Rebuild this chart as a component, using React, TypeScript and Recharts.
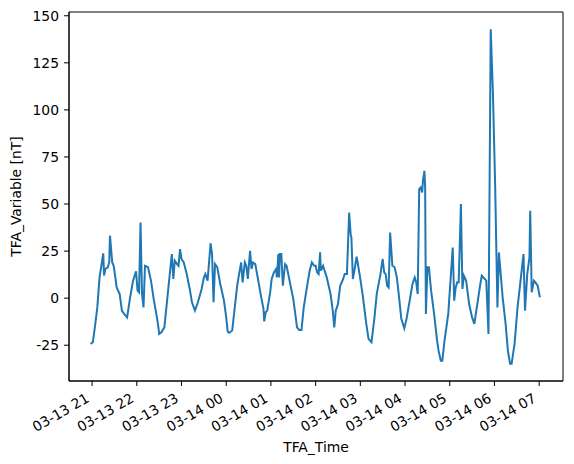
import { LineChart, Line, XAxis, YAxis, ReferenceArea } from "recharts";

const FONT = "DejaVu Sans";
const LINE_COLOR = "#1f77b4";

// minutes after 03-13 21:00
const minutesFrom2100 = [
  -2, 1, 4, 7, 10, 15, 16, 18, 21, 23, 24, 27, 29, 33, 37, 40, 43, 47, 51, 55,
  59, 61, 63, 65, 67, 69, 71, 75, 79, 83, 87, 89, 90, 93, 97, 102, 107, 109, 111, 114,
  116, 118, 120, 123, 127, 131, 134, 138, 142, 147, 150, 152, 155, 159, 161, 163, 165, 168, 172, 177,
  180, 182, 184, 188, 191, 195, 200, 202, 205, 207, 209, 212, 214, 216, 219, 223, 227, 230, 231, 233,
  235, 239, 241, 244, 247, 248, 250, 251, 252, 254, 256, 259, 261, 265, 270, 273, 275, 278, 281, 284,
  289, 292, 295, 298, 300, 302, 304, 306, 307, 310, 312, 315, 320, 323, 325, 327, 330, 333, 337, 339,
  342, 345, 347, 348, 350, 352, 355, 359, 363, 368, 371, 373, 375, 379, 382, 387, 390, 392, 394, 396,
  398, 400, 403, 406, 409, 412, 415, 419, 422, 427, 430, 433, 435, 437, 439, 441, 443, 444, 446, 447,
  448, 450, 452, 455, 459, 463, 465, 468, 470, 473, 478, 481, 484, 486, 488, 490, 492, 495, 497, 499,
  502, 506, 510, 513, 517, 521, 523, 527, 529, 532, 535, 538, 541, 544, 546, 548, 551, 555, 558, 561,
  563, 567, 571, 576, 579, 581, 584, 587, 588, 590, 593, 595, 598, 601,
];

const tfaValues = [
  -24.3, -23.4, -14.6, -4.9, 11, 23.8, 12, 15.6, 16.4, 19, 33.2, 19, 17.2, 5.7, 2.2, -6.6, -8.4, -10.2, 0.4, 9.3,
  14.2, 4, 3.1, 40.2, 2.2, -4.9, 17.2, 16.4, 9.3, -1.3, -10.2, -15.5, -19, -18.1, -15.5, 4, 23.4, 10.2, 19.9, 18.1,
  17.2, 26.1, 20.8, 19, 12.8, 4.9, -2.2, -6.6, -2.2, 4.9, 11, 12.8, 9.3, 29.1, 23.4, -2.2, 18.1, 16.4, 7.5, -1.3,
  -10.2, -17.8, -18.4, -17.2, -6.6, 7.5, 19, 8.4, 19, 17.2, 10.2, 25.2, 15.5, 19, 18.1, 9.3, 0.4, -5.7, -12.3, -7.5,
  -6.6, 3.1, 10.2, 13.7, 15.5, 11, 23.4, 11, 23.4, 23.4, 6.6, 18.1, 17.2, 9.3, -0.4, -9.3, -15.5, -16.9, -16.9, -5,
  7.5, 14.6, 19, 17.2, 17.2, 13.7, 12.8, 24.3, 14.6, 17.2, 14.6, 11, 2.2, -6.6, -15.5, -6.6, -3.1, 6.6, 10.2, 12.8,
  12.8, 45.5, 34, 32.3, 10.2, 14.6, 22, 12.8, 2.2, -13.7, -21.6, -22.5, -23.4, -10.2, 2.2, 12.8, 20.8, 13.7, 12.8, 6.6,
  5.7, 34.9, 17.2, 16.4, 11, 0.4, -11, -16, -11, 0.4, 7.5, 11, 8.4, 2.2, 57.9, 58.8, 56.1, 62.3, 67.6, 58.8,
  -8.4, 16.4, 16.4, 4, -8.4, -22.5, -27.9, -33.2, -33.2, -22.5, -8.4, 9.3, 26.9, -1.3, 5.7, 8.4, 8.4, 50, 4.9, 11.9,
  9.3, -3.1, -10.2, -13.7, -3.1, 7.5, 11.9, 10.2, 9.3, -19, 142.8, 108.3, 58.8, -4.9, 24.3, 14.6, 0.4, -13.7, -27.9, -34.9,
  -34.9, -24.3, -4.9, 12.8, 23.4, -6.6, 12.8, 21.7, 46.4, 3.1, 9.3, 8.4, 6.6, 0.4,
];

const hourTicks = [0, 60, 120, 180, 240, 300, 360, 420, 480, 540, 600];
const hourLabels = [
  "03-13 21", "03-13 22", "03-13 23", "03-14 00", "03-14 01", "03-14 02",
  "03-14 03", "03-14 04", "03-14 05", "03-14 06", "03-14 07",
];
const yTicks = [-25, 0, 25, 50, 75, 100, 125, 150];

const X_DOMAIN: [number, number] = [-31, 632];
const Y_DOMAIN: [number, number] = [-44, 152];

const data = minutesFrom2100.map((t, i) => ({ t, v: tfaValues[i] }));

function TimeTick({ x, y, payload }: any) {
  const label = hourLabels[hourTicks.indexOf(payload.value)];
  return (
    <g transform={`translate(${x - 2},${y + 15}) rotate(-30)`}>
      <text textAnchor="end" fontSize={13.9} fill="#000" fontFamily={FONT}>
        {label}
      </text>
    </g>
  );
}

function YLabel({ viewBox }: any) {
  const cy = viewBox ? viewBox.y + viewBox.height / 2 : 196.5;
  return (
    <text
      transform={`translate(21,${cy}) rotate(-90)`}
      textAnchor="middle"
      fontSize={13.9}
      fill="#000"
      fontFamily={FONT}
    >
      TFA_Variable [nT]
    </text>
  );
}

function XLabel({ viewBox }: any) {
  const cx = viewBox ? viewBox.x + viewBox.width / 2 : 316;
  return (
    <text x={cx} y={451.5} textAnchor="middle" fontSize={13.9} fill="#000" fontFamily={FONT}>
      TFA_Time
    </text>
  );
}

export default function App() {
  return (
    <div style={{ position: "fixed", left: 0, top: 0, width: 574, height: 464, background: "#fff" }}>
      <LineChart width={574} height={464} data={data} margin={{ top: 12, right: 11, bottom: 0, left: 0 }}>
        <XAxis
          dataKey="t"
          type="number"
          domain={X_DOMAIN}
          ticks={hourTicks}
          allowDataOverflow
          height={83}
          tickSize={5}
          tickMargin={0}
          tick={<TimeTick />}
          axisLine={{ stroke: "#000" }}
          tickLine={{ stroke: "#000" }}
          label={<XLabel />}
        />
        <YAxis
          type="number"
          domain={Y_DOMAIN}
          ticks={yTicks}
          allowDataOverflow
          width={69}
          tickSize={5}
          tickMargin={5}
          tick={{ fontSize: 13.9, fill: "#000", fontFamily: FONT }}
          axisLine={{ stroke: "#000" }}
          tickLine={{ stroke: "#000" }}
          label={<YLabel />}
        />
        <ReferenceArea
          x1={X_DOMAIN[0]}
          x2={X_DOMAIN[1]}
          y1={Y_DOMAIN[0]}
          y2={Y_DOMAIN[1]}
          fill="none"
          fillOpacity={0}
          stroke="#000"
          strokeWidth={1}
          strokeOpacity={1}
        />
        <Line
          type="linear"
          dataKey="v"
          stroke={LINE_COLOR}
          strokeWidth={2}
          dot={false}
          isAnimationActive={false}
        />
      </LineChart>
    </div>
  );
}
